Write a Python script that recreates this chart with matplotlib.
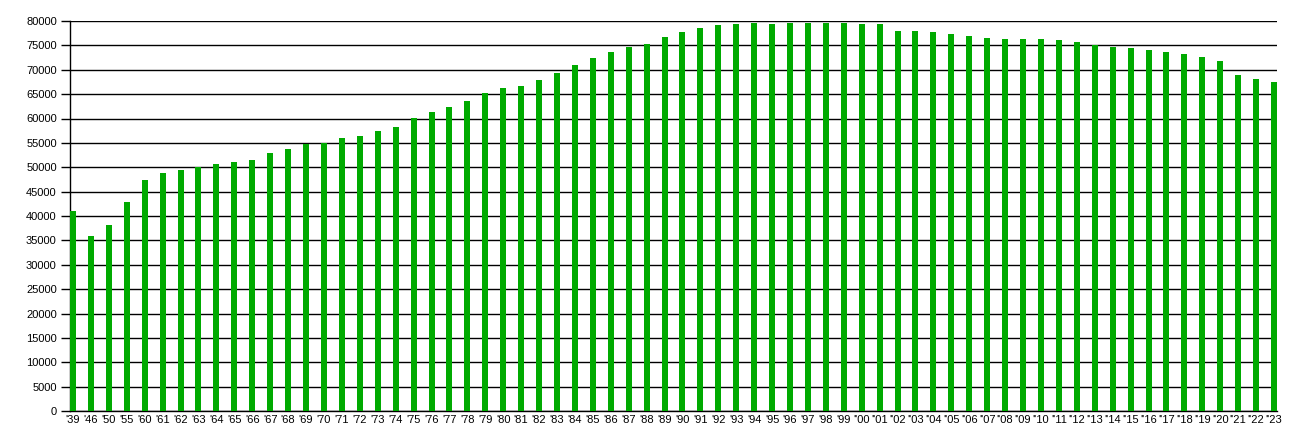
import matplotlib
matplotlib.use('Agg')
import matplotlib.pyplot as plt

# years shown on the x axis
years = ['39', '46', '50', '55'] + ['%02d' % y for y in range(60, 100)] + ['%02d' % y for y in range(0, 24)]
labels = ["'" + y if i < 44 else "''" + y for i, y in enumerate(years)]

# values
values = [
    41000, 35900, 38150, 42870,
    47400, 48800, 49400, 50100, 50650, 51100, 51500, 52900, 53750, 54750,
    55050, 56000, 56400, 57450, 58250, 60050, 61350, 62350, 63600, 65250,
    66250, 66700, 67900, 69350, 70950, 72400, 73650, 74650, 75300, 76700,
    77750, 78550, 79200, 79400, 79600, 79400, 79600, 79600, 79600, 79600,
    79400, 79400, 77950, 77950, 77750, 77350, 76900, 76500, 76300, 76300,
    76300, 76100, 75700, 75100, 74650, 74450, 74050, 73650, 73250, 72600,
    71800, 68900, 68100, 67500,
]

plt.rcParams['font.family'] = ['Liberation Sans', 'DejaVu Sans']

fig = plt.figure(figsize=(13.16, 4.30), dpi=100)
ax = fig.add_axes([70 / 1316, 1 - 411 / 430, (1277 - 70) / 1316, (411 - 21) / 430])

w = 0.335
x = list(range(len(values)))
ax.bar(x, values, width=w, color='#00aa00', zorder=3)

ax.set_xlim(-w / 2, len(values) - 1 + w / 2)
ax.set_ylim(0, 80000)
ax.set_yticks(range(0, 80001, 5000))
ax.set_yticklabels([str(v) for v in range(0, 80001, 5000)])
ax.set_xticks(x)
ax.set_xticklabels(labels)

ax.grid(axis='y', color='black', linewidth=1.0, zorder=1)
ax.set_axisbelow(True)
for s in ['top', 'right']:
    ax.spines[s].set_visible(False)
ax.spines['left'].set_linewidth(1.0)
ax.spines['bottom'].set_linewidth(1.0)

ax.tick_params(axis='y', length=6.5, width=1.0, labelsize=8, pad=3)
ax.tick_params(axis='x', length=0, labelsize=8, pad=3)

fig.savefig('out.png', dpi=100)
